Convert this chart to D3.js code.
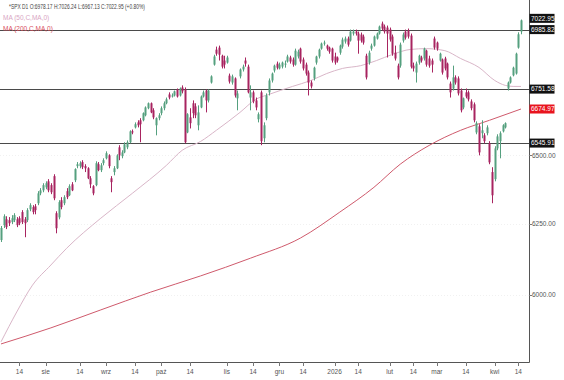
<!DOCTYPE html>
<html><head><meta charset="utf-8">
<script src="https://cdn.jsdelivr.net/npm/d3@7"></script>
<style>body{margin:0;background:#fff}svg{display:block}text{font-family:"Liberation Sans",Arial,sans-serif}</style>
</head><body><svg id="c" width="564" height="380"></svg>
<script>
const opens=[6192,6245,6266,6263,6256,6263,6266,6270,6292,6266,6263,6302,6310,6313,6324,6360,6371,6382,6404,6390,6423,6288,6273,6335,6324,6368,6353,6393,6408,6460,6460,6475,6460,6452,6415,6386,6390,6467,6445,6471,6489,6500,6415,6438,6452,6530,6497,6511,6530,6549,6590,6605,6624,6632,6632,6651,6678,6697,6670,6613,6640,6659,6678,6697,6731,6723,6727,6750,6727,6758,6750,6586,6643,6697,6685,6613,6681,6723,6746,6708,6777,6847,6906,6914,6882,6863,6855,6804,6777,6793,6716,6801,6828,6863,6839,6719,6739,6708,6636,6739,6564,6640,6739,6785,6824,6851,6832,6839,6847,6859,6875,6867,6847,6879,6910,6867,6847,6816,6777,6793,6855,6879,6910,6930,6922,6914,6910,6879,6875,6894,6918,6938,6950,6942,6970,6978,6970,6966,6958,6882,6855,6910,6922,6950,6970,7010,6998,6994,6986,6958,6894,6843,6843,6942,6978,6982,6962,6843,6816,6855,6875,6871,6902,6871,6863,6950,6934,6863,6867,6871,6851,6773,6754,6797,6793,6746,6681,6739,6739,6704,6693,6586,6609,6583,6575,6583,6545,6438,6412,6526,6553,6590,6605,6754,6777,6805,6812,6914,6978.17];
const highs=[6242,6284,6277,6274,6281,6288,6274,6277,6299,6274,6306,6324,6317,6321,6368,6379,6397,6404,6412,6397,6430,6295,6335,6346,6353,6379,6393,6401,6452,6475,6478,6482,6467,6456,6423,6390,6478,6475,6471,6489,6515,6504,6423,6460,6504,6538,6519,6549,6556,6594,6597,6624,6632,6640,6662,6685,6700,6700,6678,6643,6659,6685,6704,6719,6739,6735,6746,6754,6758,6766,6758,6659,6678,6708,6697,6689,6727,6746,6750,6750,6805,6886,6918,6922,6886,6882,6882,6812,6808,6797,6746,6832,6847,6875,6847,6766,6746,6719,6662,6746,6624,6735,6793,6816,6847,6859,6855,6859,6863,6886,6882,6875,6910,6906,6914,6875,6855,6824,6785,6839,6882,6910,6934,6942,6926,6918,6914,6894,6879,6926,6954,6958,6958,6986,6986,6986,6978,6974,6966,6890,6902,6930,6962,6974,7002,7018,7006,7002,6994,6966,6922,6851,6934,6974,6986,6990,6970,6855,6859,6886,6882,6914,6906,6882,6871,6958,6938,6894,6871,6878,6855,6781,6843,6805,6801,6754,6719,6754,6746,6712,6700,6628,6617,6632,6583,6613,6553,6456,6534,6579,6590,6617,6624,6781,6801,6839,6894,6975,7026.24];
const lows=[6185,6235,6231,6242,6249,6256,6238,6245,6249,6202,6256,6295,6284,6284,6317,6353,6364,6375,6364,6357,6335,6216,6266,6302,6317,6339,6350,6368,6401,6452,6452,6449,6438,6412,6379,6353,6386,6441,6438,6463,6485,6452,6364,6426,6449,6482,6489,6508,6523,6545,6579,6601,6605,6549,6628,6647,6674,6659,6636,6575,6632,6651,6670,6693,6712,6719,6723,6719,6723,6735,6545,6583,6601,6640,6640,6594,6678,6719,6662,6700,6773,6843,6882,6863,6832,6832,6851,6773,6769,6719,6670,6793,6820,6839,6735,6670,6697,6670,6624,6538,6549,6632,6727,6777,6816,6828,6828,6832,6835,6855,6851,6839,6843,6871,6851,6824,6804,6727,6754,6785,6847,6871,6906,6922,6902,6890,6855,6847,6855,6886,6910,6930,6918,6938,6962,6962,6890,6934,6926,6789,6847,6902,6918,6946,6966,6982,6970,6875,6938,6882,6863,6789,6835,6934,6946,6950,6832,6820,6777,6847,6855,6863,6839,6835,6816,6906,6902,6859,6808,6824,6789,6719,6746,6769,6727,6662,6674,6716,6704,6670,6624,6579,6500,6564,6545,6575,6467,6324,6404,6519,6489,6586,6601,6746,6773,6801,6808,6910,6967.13];
const closes=[6235,6277,6238,6252,6270,6281,6245,6252,6256,6252,6299,6317,6292,6299,6360,6371,6390,6397,6371,6364,6342,6234,6328,6310,6346,6346,6386,6371,6449,6467,6471,6456,6452,6415,6393,6360,6471,6445,6463,6482,6508,6460,6401,6452,6500,6500,6511,6541,6549,6590,6586,6617,6613,6617,6659,6681,6697,6662,6643,6640,6651,6678,6697,6712,6719,6727,6743,6723,6754,6743,6549,6655,6621,6659,6651,6662,6723,6739,6708,6746,6801,6879,6890,6886,6839,6847,6875,6781,6801,6727,6735,6828,6839,6851,6739,6739,6704,6681,6655,6553,6613,6727,6785,6812,6843,6835,6847,6855,6851,6879,6859,6847,6902,6898,6859,6832,6812,6777,6762,6835,6879,6906,6930,6934,6910,6898,6863,6855,6863,6922,6946,6950,6926,6978,6978,6970,6942,6942,6934,6797,6894,6922,6958,6970,6998,6990,6978,6970,6946,6890,6871,6797,6926,6966,6954,6958,6839,6832,6851,6882,6863,6910,6847,6843,6847,6914,6910,6890,6816,6832,6797,6739,6797,6777,6735,6670,6716,6723,6712,6678,6632,6621,6511,6594,6553,6605,6474,6353,6526,6571,6583,6613,6621,6777,6797,6835,6890,6967,7022.95];

const tickBars=[7,17,30,40,51,61,72,86,96,106,115,127,136,148,157,166,177,188,197];
const tickLabels=["14","sie","14","wrz","14","paź","14","lis","14","gru","14","2026","14","lut","14","mar","14","kwi","14"];
const yTicks=[6500,6250,6000];
const levels=[6985.82,6751.58,6545.91];

const ma50Bars=[0,6,12,19,25,38,50,63,69,76,82,91,97,102,111,118,124,130,137,143,149,156,162,169,175,182,188,192,195,198];
const ma50Vals=[5841,5942,6034,6104,6163,6270,6360,6463,6519,6552,6594,6662,6712,6731,6762,6785,6812,6832,6843,6863,6887,6907,6910,6902,6871,6836,6785,6766,6762,6762];
const ma200Bars=[0,19,38,57,76,95,114,129,142,152,163,175,186,198];
const ma200Vals=[5834,5888,5949,6010,6066,6128,6199,6292,6382,6467,6537,6594,6632,6674.97];

const headerText="*SPX  D1  O:6978.17  H:7026.24  L:6967.13  C:7022.95  (+0.80%)";
const ma50Label="MA (50,C,MA,0)";
const ma200Label="MA (200,C,MA,0)";

const svg=d3.select("#c");
const plotR=529, plotB=362;
const x=d3.scaleLinear().domain([0,198]).range([1,521]);
const y=d3.scaleLog().domain([6000,6985.82]).range([295,29.6]);

const defs=svg.append("defs");
defs.append("clipPath").attr("id","clip").append("rect").attr("x",0).attr("y",0).attr("width",plotR).attr("height",plotB);

// faint grid
svg.append("g").selectAll("line").data(yTicks).join("line")
  .attr("x1",0).attr("x2",plotR).attr("y1",d=>Math.round(y(d))+0.5).attr("y2",d=>Math.round(y(d))+0.5)
  .attr("stroke","#f1f1f1").attr("stroke-dasharray","1,2");

const g=svg.append("g").attr("clip-path","url(#clip)");

// level lines
g.selectAll("line.lv").data(levels).join("line").attr("class","lv")
  .attr("x1",0).attr("x2",plotR).attr("y1",d=>Math.round(y(d))+0.5).attr("y2",d=>Math.round(y(d))+0.5)
  .attr("stroke","#4a4a4a").attr("stroke-width",1);

// MAs
const line=d3.line().x(d=>x(d[0])).y(d=>y(d[1])).curve(d3.curveMonotoneX);
g.append("path").datum(ma50Bars.map((b,i)=>[b,ma50Vals[i]])).attr("d",line)
  .attr("fill","none").attr("stroke","#d9b6c8").attr("stroke-width",1);
g.append("path").datum(ma200Bars.map((b,i)=>[b,ma200Vals[i]])).attr("d",line)
  .attr("fill","none").attr("stroke","#cf5a6c").attr("stroke-width",1);

// candles
const up="#55a07f", dn="#a82460";
const idx=d3.range(closes.length);
const cg=g.append("g");
cg.selectAll("line").data(idx).join("line")
  .attr("x1",i=>Math.round(x(i))+0.5).attr("x2",i=>Math.round(x(i))+0.5)
  .attr("y1",i=>y(highs[i])).attr("y2",i=>y(lows[i]))
  .attr("stroke",i=>closes[i]>=opens[i]?up:dn).attr("stroke-width",1);
cg.selectAll("rect").data(idx).join("rect")
  .attr("x",i=>Math.round(x(i))-0.5).attr("width",2)
  .attr("y",i=>y(Math.max(opens[i],closes[i])))
  .attr("height",i=>Math.max(1,Math.abs(y(opens[i])-y(closes[i]))))
  .attr("fill",i=>closes[i]>=opens[i]?up:dn);

// axes frame
svg.append("line").attr("x1",0).attr("x2",plotR+0.5).attr("y1",plotB+0.5).attr("y2",plotB+0.5).attr("stroke","#555");
svg.append("line").attr("x1",plotR+0.5).attr("x2",plotR+0.5).attr("y1",0).attr("y2",plotB+0.5).attr("stroke","#555");

// bottom axis
const xa=svg.append("g");
xa.selectAll("line").data(tickBars).join("line")
  .attr("x1",d=>Math.round(x(d))+0.5).attr("x2",d=>Math.round(x(d))+0.5)
  .attr("y1",plotB).attr("y2",plotB+4).attr("stroke","#777");
xa.selectAll("text").data(tickBars).join("text")
  .attr("x",d=>x(d)).attr("y",plotB+12).attr("text-anchor","middle")
  .attr("font-size",6.5).attr("fill","#555").text((d,i)=>tickLabels[i]);

// right axis ticks
const ya=svg.append("g");
ya.selectAll("line").data(yTicks).join("line")
  .attr("x1",plotR).attr("x2",plotR+3).attr("y1",d=>Math.round(y(d))+0.5).attr("y2",d=>Math.round(y(d))+0.5).attr("stroke","#777");
ya.selectAll("text").data(yTicks).join("text")
  .attr("x",plotR+3).attr("y",d=>y(d)+2.3).attr("font-size",6.5).attr("fill","#555")
  .text(d=>d3.format(".2f")(d));

// price boxes
const boxes=[
  {v:closes[closes.length-1],c:"#111",dy:-2},
  {v:levels[0],c:"#111",dy:0},
  {v:levels[1],c:"#111",dy:0},
  {v:ma200Vals[ma200Vals.length-1],c:"#e8141e",dy:0},
  {v:levels[2],c:"#111",dy:0}
];
const bg=svg.append("g");
boxes.forEach(b=>{
  const yy=y(b.v)+b.dy;
  bg.append("rect").attr("x",plotR+0.5).attr("y",yy-4.5).attr("width",25).attr("height",9).attr("fill",b.c);
  bg.append("text").attr("x",plotR+2).attr("y",yy+2.3).attr("font-size",6.5).attr("fill","#fff").text(d3.format(".2f")(b.v));
});

// header / legend
svg.append("text").attr("x",9).attr("y",9).attr("font-size",6.5).attr("fill","#444")
  .attr("textLength",136).attr("lengthAdjust","spacingAndGlyphs").text(headerText);
svg.append("text").attr("x",3).attr("y",20).attr("font-size",6.5).attr("fill","#d9a6c4").text(ma50Label);
svg.append("text").attr("x",3).attr("y",31).attr("font-size",6.5).attr("fill","#d8505e").text(ma200Label);
</script></body></html>
